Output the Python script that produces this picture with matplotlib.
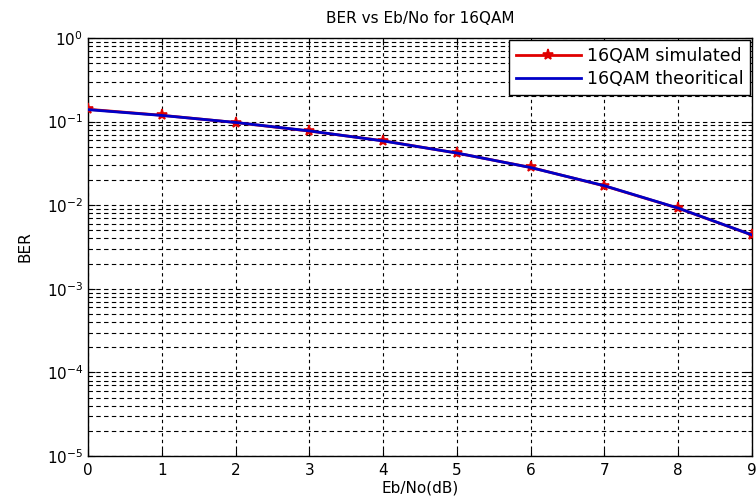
import matplotlib.pyplot as plt
from matplotlib.ticker import LogLocator, NullFormatter

plt.rcParams['font.family'] = ['DejaVu Sans']

# Eb/No (dB) and BER values
ebno_db = [0, 1, 2, 3, 4, 5, 6, 7, 8, 9]
ber_sim = [0.1405, 0.1190, 0.0975, 0.0770, 0.0590, 0.0420, 0.0283, 0.0170, 0.0092, 0.00440]
ber_theory = [0.1390, 0.1185, 0.0977, 0.0774, 0.0587, 0.0421, 0.0282, 0.0171, 0.00923, 0.00441]

fig = plt.figure(figsize=(7.56, 5.0), dpi=100)
ax = fig.add_axes([0.1164, 0.088, 0.8783, 0.836])

ax.semilogy(ebno_db, ber_sim, color='#e00000', linewidth=2, marker='*',
            markersize=8, markeredgewidth=1.2, label='16QAM simulated', zorder=3)
ax.semilogy(ebno_db, ber_theory, color='#0000c8', linewidth=2,
            label='16QAM theoritical', zorder=4)

ax.set_xlim(0, 9)
ax.set_ylim(1e-5, 1)
ax.set_xticks(range(0, 10))
ax.yaxis.set_major_locator(LogLocator(base=10, numticks=10))
ax.yaxis.set_minor_locator(LogLocator(base=10, subs=range(2, 10), numticks=20))
ax.yaxis.set_minor_formatter(NullFormatter())

ax.grid(True, which='major', axis='x', color='black', linestyle=(0, (3, 3)), linewidth=0.8)
ax.grid(True, which='both', axis='y', color='black', linestyle=(0, (4, 3)), linewidth=0.8)

ax.tick_params(which='both', direction='in', top=True, right=True, labelsize=11,
               colors='black')
ax.tick_params(which='major', length=5)
ax.tick_params(which='minor', length=3)
ax.tick_params(axis='x', pad=5)
for s in ax.spines.values():
    s.set_linewidth(1.0)

ax.set_title('BER vs Eb/No for 16QAM', fontsize=11, pad=11)
ax.set_xlabel('Eb/No(dB)', fontsize=11, labelpad=2)
ax.set_ylabel('BER', fontsize=11, labelpad=10)

leg = ax.legend(loc='upper right', fontsize=12.5, frameon=True, fancybox=False,
                edgecolor='black', framealpha=1, borderaxespad=0.1, handlelength=3.8,
                handletextpad=0.3, borderpad=0.4, labelspacing=0.3)
leg.get_frame().set_linewidth(1.0)

fig.savefig('out.png', dpi=100)
